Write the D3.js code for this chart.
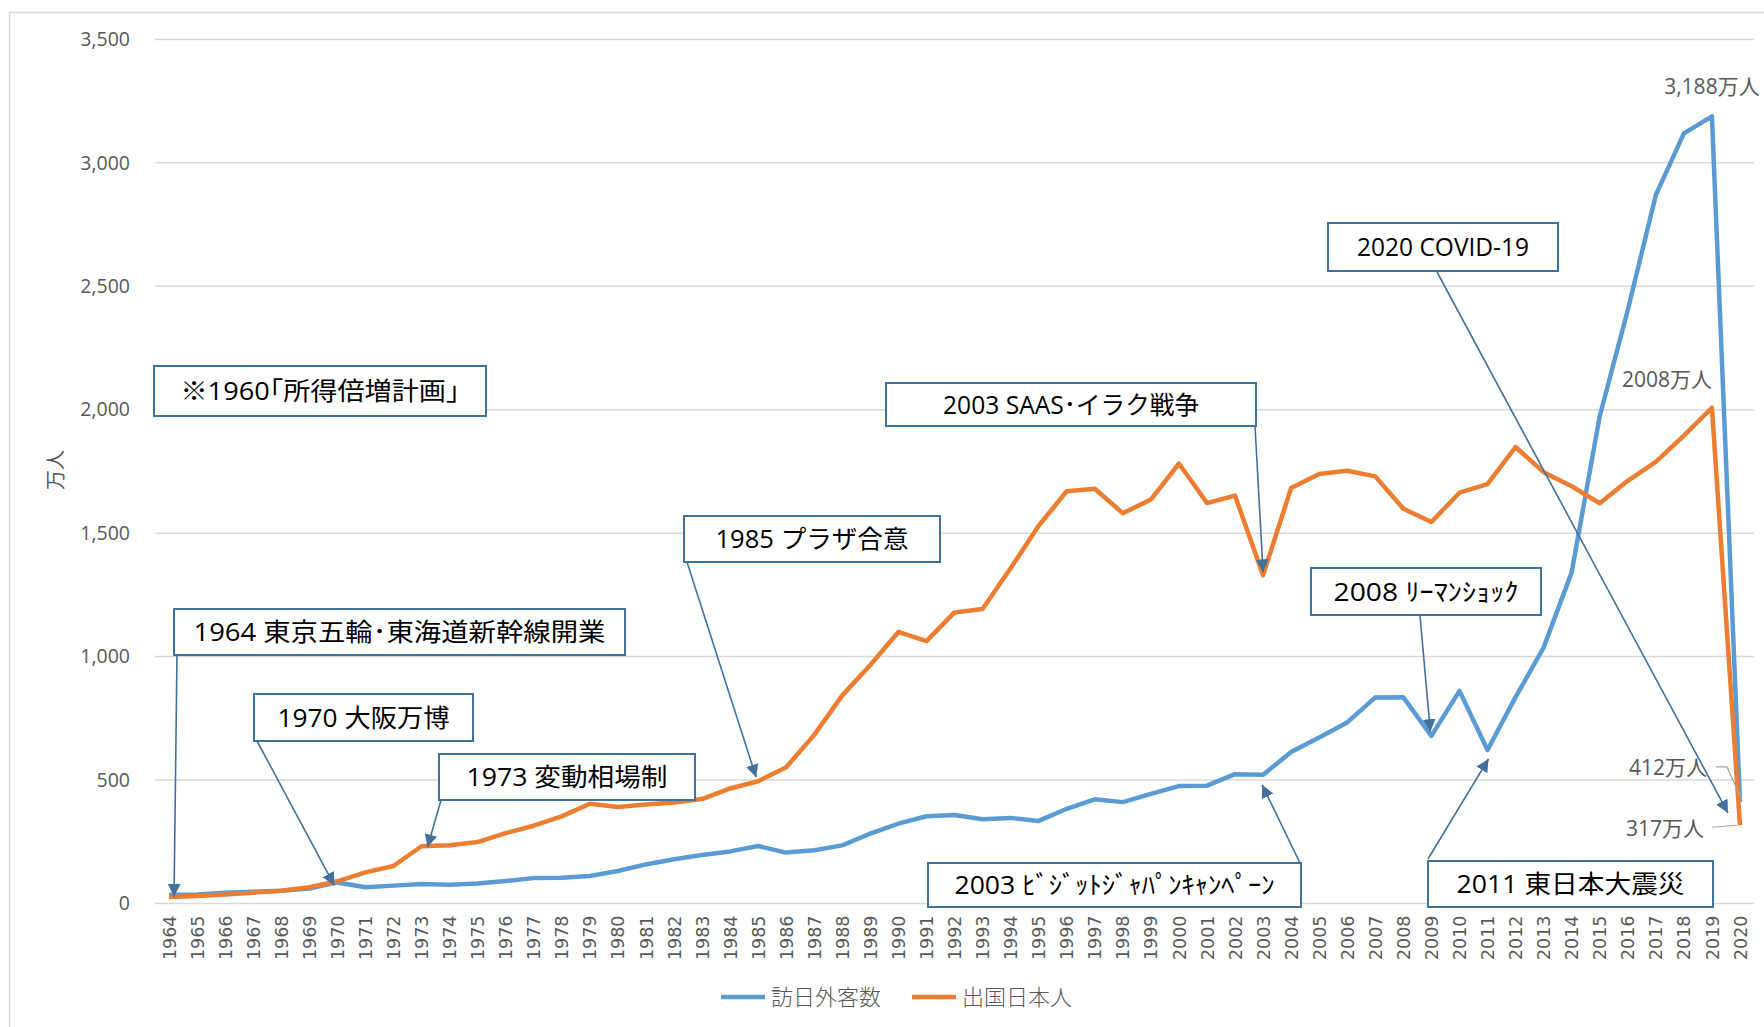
<!DOCTYPE html>
<html>

<head>
    <meta charset="utf-8">
    <title>訪日外客数と出国日本人</title>
    <script src="https://d3js.org/d3.v7.min.js" charset="utf-8"></script>
</head>

<body>
    <style>
        html,
        body {
            margin: 0;
            padding: 0;
            background: #ffffff;
        }

        .grid line {
            stroke: #d9d9d9;
            stroke-width: 1.5px;
        }

        .series {
            fill: none;
            stroke-width: 4.5px;
            stroke-linejoin: round;
        }

        .note rect {
            fill: #ffffff;
            stroke: #41719c;
            stroke-width: 2px;
        }

        .note text {
            font: 25px "Open Sans", "Noto Sans CJK JP", sans-serif;
            fill: #000000;
        }

        .arrow {
            stroke: #41719c;
            stroke-width: 1.6px;
        }
    </style>
    <script>
      // categories (years) and the two series, in 10,000 people (万人)
      var years = [1964, 1965, 1966, 1967, 1968, 1969, 1970, 1971, 1972, 1973,
                   1974, 1975, 1976, 1977, 1978, 1979, 1980, 1981, 1982, 1983,
                   1984, 1985, 1986, 1987, 1988, 1989, 1990, 1991, 1992, 1993,
                   1994, 1995, 1996, 1997, 1998, 1999, 2000, 2001, 2002, 2003,
                   2004, 2005, 2006, 2007, 2008, 2009, 2010, 2011, 2012, 2013,
                   2014, 2015, 2016, 2017, 2018, 2019, 2020];

      // 訪日外客数
      var visitors = [35.3, 36.7, 43.3, 47.7, 51.9, 60.9, 85.4, 66.0, 72.4, 78.5,
                      76.4, 81.2, 91.5, 102.8, 103.9, 111.3, 131.7, 158.3, 179.3, 196.8,
                      211.0, 232.7, 206.2, 215.5, 235.5, 283.5, 323.6, 353.3, 358.2, 341.0,
                      346.8, 334.5, 383.7, 421.8, 410.6, 443.8, 475.7, 477.2, 523.9, 521.2,
                      613.8, 672.8, 733.4, 834.7, 835.1, 679.0, 861.1, 621.9, 835.8, 1036.4,
                      1341.3, 1973.7, 2403.9, 2869.1, 3119.2, 3188.2, 411.6];

      // 出国日本人
      var outbound = [26, 30, 36, 44, 52, 66, 90, 126, 152, 232,
                      236, 249, 285, 315, 353, 404, 391, 401, 409, 423,
                      466, 495, 552, 683, 843, 966, 1100, 1063, 1179, 1193,
                      1358, 1530, 1670, 1680, 1581, 1636, 1782, 1622, 1652, 1330,
                      1683, 1740, 1753, 1730, 1599, 1545, 1664, 1699, 1849, 1747,
                      1690, 1621, 1712, 1789, 1895, 2008, 317];

      var seriesNames = ["訪日外客数", "出国日本人"];
      var yTicks = [0, 500, 1000, 1500, 2000, 2500, 3000, 3500];

      var width = 1764,
          height = 1027;

      var svg = d3.select("body")
                  .append("svg")
                  .attr("width", width)
                  .attr("height", height);

      // chart area border
      svg.append("rect")
         .attr("x", 9.5).attr("y", 12.5)
         .attr("width", width).attr("height", height)
         .attr("fill", "none")
         .attr("stroke", "#d9d9d9")
         .attr("stroke-width", 1.5);

      var x = d3.scalePoint()
                .domain(years)
                .range([155, 1754])
                .padding(0.5);

      var y = d3.scaleLinear()
                .domain([0, 3500])
                .range([903.5, 39.4]);

      var series = [
        {name: seriesNames[0], values: visitors, color: "#5b9bd5"},
        {name: seriesNames[1], values: outbound, color: "#ed7d31"}
      ];

      // horizontal gridlines
      svg.append("g")
         .attr("class", "grid")
         .selectAll("line")
         .data(yTicks)
         .join("line")
         .attr("x1", 155).attr("x2", 1754)
         .attr("y1", d => y(d)).attr("y2", d => y(d));

      // y axis labels
      var yAxis = svg.append("g")
                     .attr("transform", "translate(130,0)")
                     .call(d3.axisLeft(y).tickValues(yTicks).tickFormat(d3.format(",")).tickSize(0).tickPadding(0));
      yAxis.select(".domain").remove();
      yAxis.selectAll("text")
           .style("font", "19.5px 'Open Sans', sans-serif")
           .attr("fill", "#595959");

      // x axis labels, rotated
      var xAxis = svg.append("g")
                     .attr("transform", "translate(0,903.5)")
                     .call(d3.axisBottom(x).tickSize(0).tickPadding(0));
      xAxis.select(".domain").remove();
      xAxis.selectAll("text")
           .attr("fill", "#595959")
           .style("font", "17.5px 'DejaVu Sans', sans-serif")
           .attr("transform", "rotate(-90)")
           .attr("text-anchor", "end")
           .attr("x", -12)
           .attr("y", 0)
           .attr("dy", "0.35em");

      // y axis title
      svg.append("text")
         .attr("transform", "translate(56,470) rotate(-90)")
         .attr("text-anchor", "middle")
         .attr("dy", "0.35em")
         .attr("fill", "#595959")
         .style("font", "20px 'Noto Sans CJK JP', sans-serif")
         .text("万人");

      // the two lines
      var line = d3.line()
                   .x((d, i) => x(years[i]))
                   .y(d => y(d));

      svg.selectAll("path.series")
         .data(series)
         .join("path")
         .attr("class", "series")
         .attr("stroke", d => d.color)
         .attr("d", d => line(d.values));

      // data labels at the right end
      var last = years.length - 1;
      var dataLabels = [
        {text: "3,188万人", year: 2019, v: visitors[last - 1], dx: 0, dy: -30},
        {text: "2008万人", year: 2019, v: outbound[last - 1], dx: -45, dy: -28},
        {text: "412万人", year: 2020, v: visitors[last], dx: -72, dy: -34},
        {text: "317万人", year: 2020, v: outbound[last], dx: -75, dy: 3}
      ];

      svg.selectAll("text.dlabel")
         .data(dataLabels)
         .join("text")
         .attr("class", "dlabel")
         .attr("x", d => x(d.year) + d.dx)
         .attr("y", d => y(d.v) + d.dy)
         .attr("dy", "0.35em")
         .attr("text-anchor", "middle")
         .attr("fill", "#595959")
         .style("font", "21px 'Open Sans', 'Noto Sans CJK JP', sans-serif")
         .text(d => d.text);

      // leader lines for the 2020 labels
      var x20 = x(2020);
      svg.append("path")
         .attr("d", "M" + (x20 - 24) + "," + (y(visitors[last]) - 35) +
                    "H" + (x20 - 13) +
                    "L" + (x20 + 2) + "," + (y(visitors[last]) - 2))
         .attr("fill", "none").attr("stroke", "#a6a6a6").attr("stroke-width", 1.2);
      svg.append("path")
         .attr("d", "M" + (x20 - 28) + "," + (y(outbound[last]) + 2) +
                    "L" + (x20 - 3) + "," + (y(outbound[last])))
         .attr("fill", "none").attr("stroke", "#a6a6a6").attr("stroke-width", 1.2);

      // annotation boxes with arrows
      var notes = [
        {text: "※1960｢所得倍増計画｣", box: [154, 366, 332, 50], tw: 279},
        {text: "1964 東京五輪･東海道新幹線開業", box: [174, 609, 451, 46], tw: 412,
         from: [177, 655], year: 1964, values: visitors, dx: 5, dy: 2},
        {text: "1970 大阪万博", box: [254, 694, 219, 47], tw: 172,
         from: [257, 741], year: 1970, values: visitors, dx: -3, dy: 3},
        {text: "1973 変動相場制", box: [439, 754, 256, 46], tw: 201,
         from: [441, 800], year: 1973, values: outbound, dx: 6, dy: 1},
        {text: "1985 プラザ合意", box: [684, 516, 256, 46], tw: 193,
         from: [687, 562], year: 1985, values: outbound, dx: -2, dy: -4},
        {text: "2003 SAAS･イラク戦争", box: [886, 383, 370, 43], tw: 256,
         from: [1255, 426], year: 2003, values: outbound, dx: 0, dy: -3},
        {text: "2008 ﾘｰﾏﾝｼｮｯｸ", box: [1311, 568, 230, 47], tw: 185,
         from: [1420, 616], year: 2009, values: visitors, dx: -1, dy: -4},
        {text: "2020 COVID-19", box: [1328, 223, 230, 48], tw: 172,
         from: [1437, 272], year: 2020, values: visitors, dx: -12, dy: 11},
        {text: "2003 ﾋﾞｼﾞｯﾄｼﾞｬﾊﾟﾝｷｬﾝﾍﾟｰﾝ", box: [928, 863, 373, 44], tw: 320,
         from: [1300, 863], year: 2003, values: visitors, dx: -1, dy: 10},
        {text: "2011 東日本大震災", box: [1428, 861, 285, 46], tw: 228,
         from: [1428, 859], year: 2011, values: visitors, dx: 1, dy: 9}
      ];

      // arrow heads
      svg.append("defs")
         .append("marker")
         .attr("id", "head")
         .attr("viewBox", "0 0 10 10")
         .attr("refX", 10).attr("refY", 5)
         .attr("markerWidth", 8).attr("markerHeight", 8)
         .attr("markerUnits", "strokeWidth")
         .attr("orient", "auto")
         .append("path")
         .attr("d", "M0,0L10,5L0,10z")
         .attr("fill", "#41719c");

      svg.selectAll("line.arrow")
         .data(notes.filter(d => d.from))
         .join("line")
         .attr("class", "arrow")
         .attr("x1", d => d.from[0])
         .attr("y1", d => d.from[1])
         .attr("x2", d => x(d.year) + d.dx)
         .attr("y2", d => y(d.values[years.indexOf(d.year)]) + d.dy)
         .attr("marker-end", "url(#head)");

      var note = svg.selectAll("g.note")
                    .data(notes)
                    .join("g")
                    .attr("class", "note");

      note.append("rect")
          .attr("x", d => d.box[0])
          .attr("y", d => d.box[1])
          .attr("width", d => d.box[2])
          .attr("height", d => d.box[3]);

      note.append("text")
          .attr("x", d => d.box[0] + d.box[2] / 2)
          .attr("y", d => d.box[1] + d.box[3] / 2)
          .attr("dy", "0.36em")
          .attr("text-anchor", "middle")
          .attr("textLength", d => d.tw)
          .attr("lengthAdjust", "spacingAndGlyphs")
          .text(d => d.text);

      // legend
      var legend = svg.append("g")
                      .selectAll("g")
                      .data(series)
                      .join("g")
                      .attr("transform", (d, i) => "translate(" + (721 + i * 191) + ",997)");

      legend.append("line")
            .attr("x1", 0).attr("x2", 44)
            .attr("stroke", d => d.color)
            .attr("stroke-width", 4.5);

      legend.append("text")
            .attr("x", 50)
            .attr("dy", "0.35em")
            .attr("fill", "#595959")
            .style("font", "300 22px 'Noto Sans CJK JP', sans-serif")
            .text(d => d.name);
    </script>
</body>

</html>
